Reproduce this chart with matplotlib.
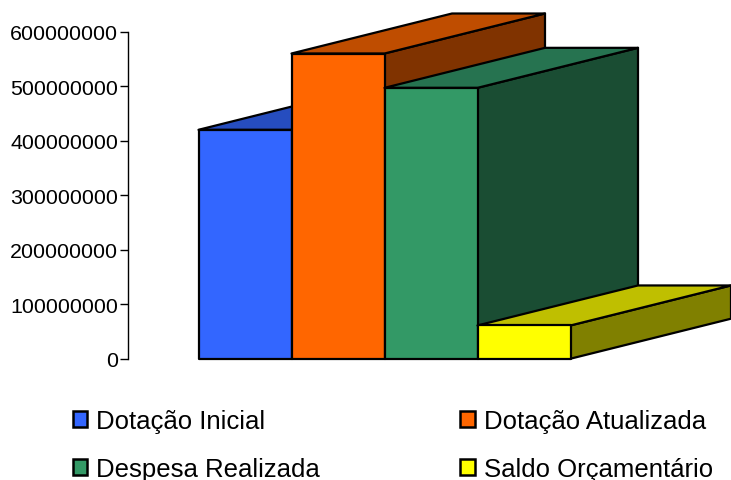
import matplotlib
matplotlib.use("Agg")
from matplotlib import pyplot as plt
from matplotlib.patches import Polygon, Patch

plt.rcParams['font.family'] = ['Liberation Sans', 'DejaVu Sans']

categories = ["Dotação Inicial", "Dotação Atualizada", "Despesa Realizada", "Saldo Orçamentário"]
values = [420000000, 560000000, 497000000, 61000000]
ticks = [0, 100000000, 200000000, 300000000, 400000000, 500000000, 600000000]

front_colors = ["#3366FF", "#FF6600", "#339966", "#FFFF00"]
top_colors = ["#264DBF", "#BF4D00", "#267350", "#BFBF00"]
side_colors = ["#1A3380", "#803300", "#1A4D33", "#808000"]

W, H = 731, 481
fig = plt.figure(figsize=(W / 100, H / 100), dpi=100)
ax = fig.add_axes([128 / W, 1 - 359.7 / H, (W - 128) / W, (359.7 - 32.7) / H])

# one bar is 1 unit wide, the axis sits to the left of the first one
ax.set_xlim(-70.5 / 93, (W - 198.5) / 93)
ax.set_ylim(0, 600000000)

# slant of the fake 3d depth
dx = 160.5 / 93
dy = 40 / (327 / 600000000)

# left to right so every bar covers the side of the previous one
for i, v in enumerate(values):
    style = dict(edgecolor="black", linewidth=1.6, joinstyle="round", clip_on=False)
    side = [(i + 1, 0), (i + 1 + dx, dy), (i + 1 + dx, v + dy), (i + 1, v)]
    top = [(i, v), (i + 1, v), (i + 1 + dx, v + dy), (i + dx, v + dy)]
    front = [(i, 0), (i + 1, 0), (i + 1, v), (i, v)]
    ax.add_patch(Polygon(side, facecolor=side_colors[i], **style))
    ax.add_patch(Polygon(top, facecolor=top_colors[i], **style))
    ax.add_patch(Polygon(front, facecolor=front_colors[i], **style))

ax.set_yticks(ticks)
ax.set_yticklabels([str(t) for t in ticks])
ax.tick_params(axis='y', labelsize=15.4, length=5.8, width=1, pad=1.2, colors="black")
ax.set_xticks([])
for name in ("top", "right", "bottom"):
    ax.spines[name].set_visible(False)
ax.spines["left"].set_linewidth(1)

# legend fills by column, so the order goes first column then second
order = [0, 2, 1, 3]
handles = [Patch(facecolor=front_colors[i], edgecolor="black", linewidth=1.8, label=categories[i]) for i in order]
fig.legend(handles=handles, ncol=2, loc="upper left", bbox_to_anchor=(72.5 / W, 1 - 410 / H),
           bbox_transform=fig.transFigure, frameon=False, fontsize=18.5,
           handlelength=0.58, handleheight=0.58, handletextpad=0.33,
           labelspacing=0.95, columnspacing=5.48, borderpad=0, borderaxespad=0)

fig.savefig("out.png", dpi=100)
plt.close(fig)
